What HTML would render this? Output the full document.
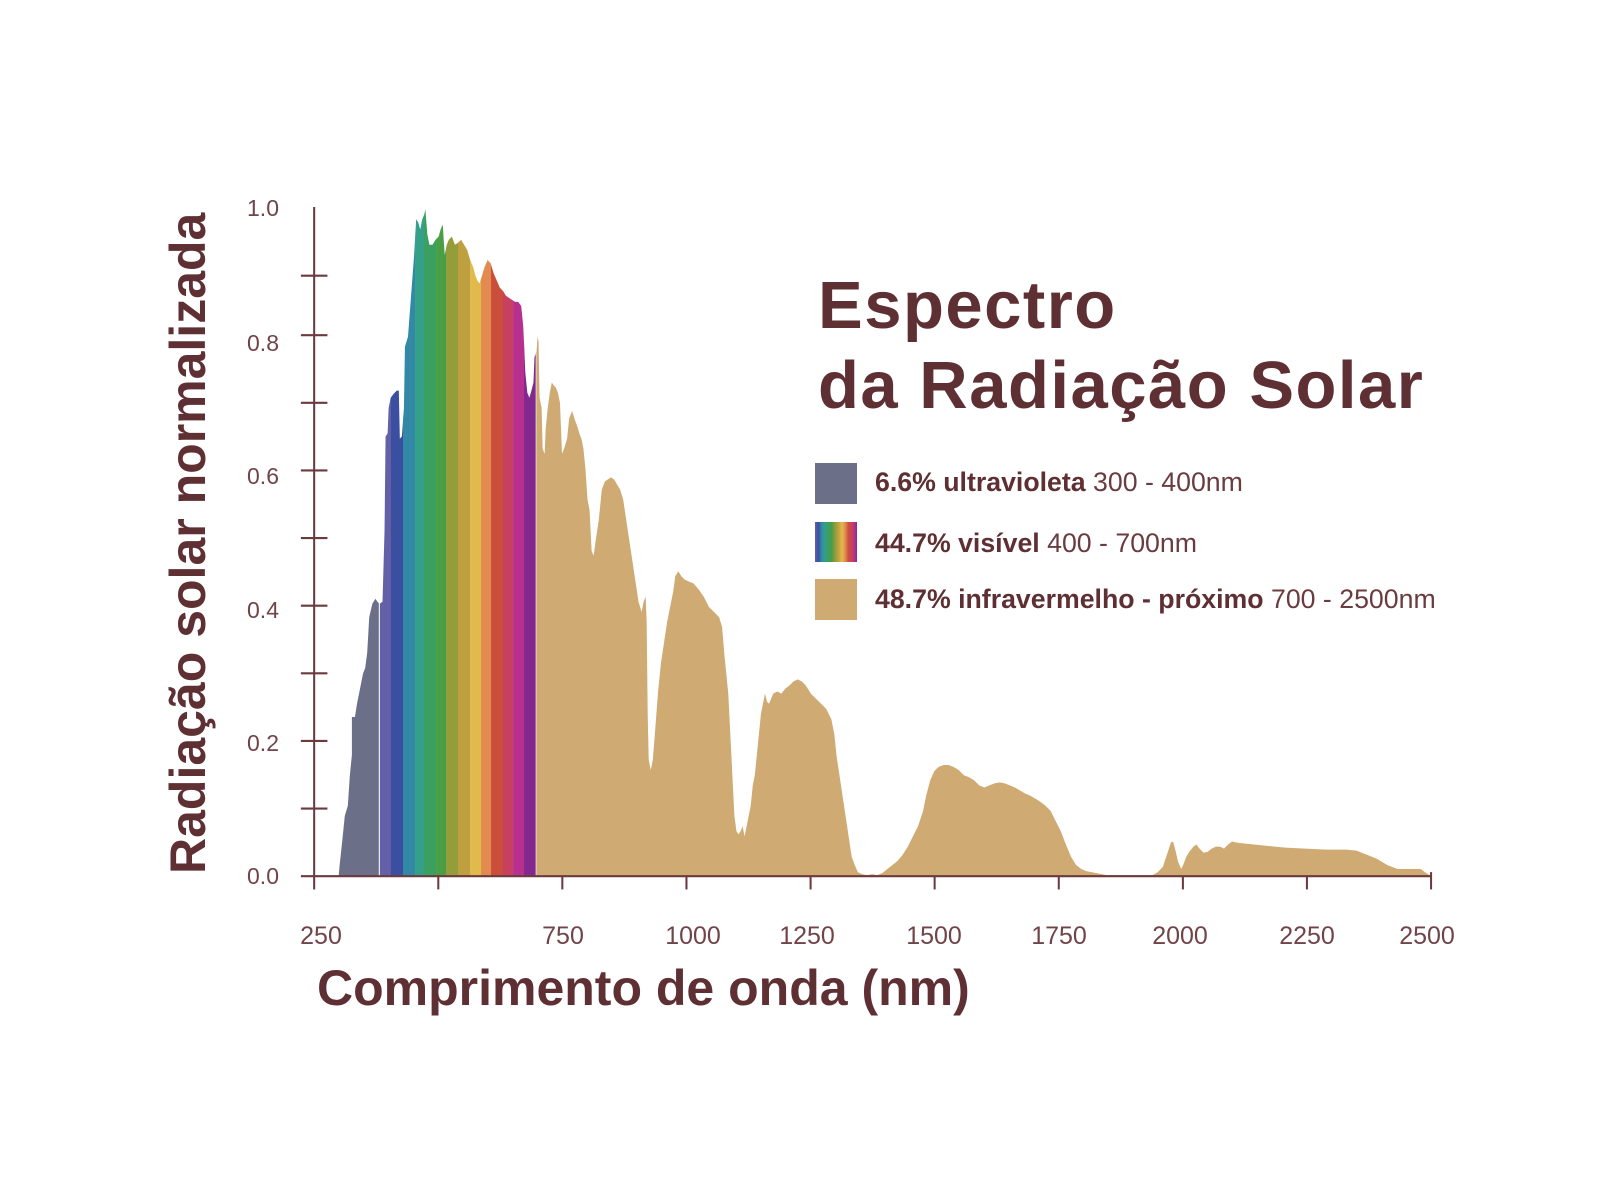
<!DOCTYPE html>
<html><head><meta charset="utf-8"><style>
html,body{margin:0;padding:0;background:#fff;}
svg{display:block;}
text{font-family:"Liberation Sans",sans-serif;}
</style></head><body>
<svg width="1600" height="1200" viewBox="0 0 1600 1200" xmlns="http://www.w3.org/2000/svg">
<defs>
<clipPath id="prof"><polygon points="332,859 333,848 336,820 338,800 341,790 343,760 345,740 345,703 348,703 350,690 352,680 354,670 356,660 358,655 360,640 362,605 365,592 368,587 370,590 372,592 375,590 377,520 378,428 380,425 381,400 383,390 386,386 389,383 391,383 392,430 394,428 396,400 397,340 400,330 403,290 406,250 408,215 410,218 412,225 414,215 416,210 417,205 419,230 421,240 424,240 427,235 430,232 432,225 434,220 436,250 438,240 440,235 443,232 446,240 449,238 452,235 455,240 458,245 461,255 464,262 466,270 468,275 470,278 472,272 475,262 478,255 481,258 484,268 487,275 490,282 493,285 496,290 499,292 502,294 505,296 508,296 511,300 513,320 515,365 517,385 519,390 521,383 523,375 524,350 526,345 527,330 528,335 529,390 531,400 532,440 534,445 535,420 537,400 539,385 541,375 543,378 545,380 547,385 549,395 551,445 553,440 556,430 558,410 561,403 563,410 566,418 568,425 570,430 572,440 574,460 576,490 578,500 580,540 582,545 584,530 587,510 590,480 593,472 596,470 599,468 602,470 605,475 608,480 611,490 614,510 617,530 620,550 623,570 626,590 629,600 631,590 633,585 634,610 635,700 636,745 638,755 640,745 642,720 645,680 648,650 651,630 654,610 657,595 660,580 662,565 665,560 668,565 671,568 675,570 680,572 685,578 690,585 695,595 700,600 705,605 708,615 710,640 712,660 714,680 716,720 718,760 720,800 722,815 724,818 726,815 728,810 730,820 732,810 734,800 736,790 738,770 740,760 742,740 744,720 746,700 748,690 750,680 752,688 754,690 756,685 758,680 762,678 766,680 770,675 774,672 778,668 782,666 786,668 790,672 795,680 800,685 805,690 810,695 815,705 818,720 820,740 823,760 826,780 829,800 832,820 835,840 838,848 841,855 845,857 850,858 855,857 860,858 865,856 870,852 875,848 880,844 885,838 890,830 895,820 900,810 905,795 908,780 912,765 916,756 920,752 925,750 930,750 935,752 940,755 945,760 950,762 955,765 960,770 965,772 970,770 975,768 980,767 985,768 990,770 995,772 1000,775 1005,778 1010,780 1015,783 1020,786 1025,790 1030,795 1035,805 1040,815 1045,828 1050,840 1055,848 1060,852 1065,854 1070,855 1080,857 1085,858 1130,858 1135,855 1140,850 1145,835 1148,826 1150,825 1152,832 1155,845 1158,852 1160,848 1163,840 1166,835 1170,830 1173,828 1176,832 1180,836 1184,835 1188,832 1192,830 1196,830 1200,832 1204,828 1208,825 1212,826 1220,827 1240,829 1260,831 1280,832 1300,833 1320,833 1330,834 1335,836 1340,838 1345,840 1350,842 1355,845 1360,848 1365,850 1370,852 1380,852 1393,852 1397,855 1403,859"/></clipPath>
<linearGradient id="vis" x1="0" x2="1" y1="0" y2="0">
<stop offset="0" stop-color="#6460a8"/><stop offset="0.08" stop-color="#3a4fa0"/><stop offset="0.16" stop-color="#3289a6"/><stop offset="0.24" stop-color="#35a08a"/><stop offset="0.32" stop-color="#3aa060"/><stop offset="0.40" stop-color="#4a9e45"/><stop offset="0.48" stop-color="#959c3a"/><stop offset="0.56" stop-color="#bfa040"/><stop offset="0.64" stop-color="#e0bb4c"/><stop offset="0.72" stop-color="#e38a50"/><stop offset="0.80" stop-color="#cb4e3a"/><stop offset="0.88" stop-color="#c74060"/><stop offset="0.94" stop-color="#b73090"/><stop offset="1" stop-color="#83298e"/>
</linearGradient>
</defs>
<g transform="scale(1.02)">
<g clip-path="url(#prof)">
<rect x="300" y="180" width="72" height="700" fill="#6b7088"/>
<rect x="372.5" y="180" width="11" height="700" fill="#6460a8"/>
<rect x="383.3" y="180" width="12" height="700" fill="#3a4fa0"/>
<rect x="395.1" y="180" width="12" height="700" fill="#3289a6"/>
<rect x="406.9" y="180" width="9" height="700" fill="#35a08a"/>
<rect x="415.7" y="180" width="12" height="700" fill="#3aa060"/>
<rect x="427.5" y="180" width="10" height="700" fill="#4a9e45"/>
<rect x="437.3" y="180" width="12" height="700" fill="#959c3a"/>
<rect x="449" y="180" width="12" height="700" fill="#bfa040"/>
<rect x="460.8" y="180" width="11" height="700" fill="#e0bb4c"/>
<rect x="471.6" y="180" width="10" height="700" fill="#e38a50"/>
<rect x="481.4" y="180" width="12" height="700" fill="#cb4e3a"/>
<rect x="493.1" y="180" width="10" height="700" fill="#c74060"/>
<rect x="503" y="180" width="11" height="700" fill="#b73090"/>
<rect x="513.7" y="180" width="12" height="700" fill="#83298e"/>
<rect x="525.5" y="180" width="900" height="700" fill="#cfaa72"/>
<rect x="371.3" y="180" width="1.2" height="700" fill="#fff" opacity="0.7"/>
<rect x="525" y="180" width="1" height="700" fill="#fff" opacity="0.6"/>
</g>
<g stroke="#6b3a3e" stroke-width="2" fill="none">
<line x1="308" y1="203" x2="308" y2="872"/>
<line x1="295" y1="859" x2="1403" y2="859"/>
<line x1="295" y1="792.7" x2="321" y2="792.7"/>
<line x1="295" y1="726.4" x2="321" y2="726.4"/>
<line x1="295" y1="660.1" x2="321" y2="660.1"/>
<line x1="295" y1="593.8" x2="321" y2="593.8"/>
<line x1="295" y1="527.5" x2="321" y2="527.5"/>
<line x1="295" y1="461.2" x2="321" y2="461.2"/>
<line x1="295" y1="394.9" x2="321" y2="394.9"/>
<line x1="295" y1="328.6" x2="321" y2="328.6"/>
<line x1="295" y1="270.3" x2="321" y2="270.3"/>
<line x1="429.7" y1="859" x2="429.7" y2="872"/>
<line x1="551.3" y1="859" x2="551.3" y2="872"/>
<line x1="673" y1="859" x2="673" y2="872"/>
<line x1="794.7" y1="859" x2="794.7" y2="872"/>
<line x1="916.3" y1="859" x2="916.3" y2="872"/>
<line x1="1038" y1="859" x2="1038" y2="872"/>
<line x1="1159.7" y1="859" x2="1159.7" y2="872"/>
<line x1="1281.3" y1="859" x2="1281.3" y2="872"/>
<line x1="1403" y1="855" x2="1403" y2="872"/>
</g>
</g>
<g fill="#704448" font-size="23" text-anchor="end">
<text x="279" y="884">0.0</text>
<text x="279" y="751">0.2</text>
<text x="279" y="618">0.4</text>
<text x="279" y="484">0.6</text>
<text x="279" y="351">0.8</text>
<text x="279" y="216">1.0</text>
</g>
<g fill="#704448" font-size="25" text-anchor="middle">
<text x="321" y="944">250</text>
<text x="563" y="944">750</text>
<text x="693" y="944">1000</text>
<text x="807" y="944">1250</text>
<text x="934" y="944">1500</text>
<text x="1059" y="944">1750</text>
<text x="1180" y="944">2000</text>
<text x="1307" y="944">2250</text>
<text x="1427" y="944">2500</text>
</g>
<text x="317" y="1005" fill="#5e2f33" font-size="50" font-weight="bold">Comprimento de onda (nm)</text>
<text transform="translate(205,874) rotate(-90)" fill="#5e2f33" font-size="50" font-weight="bold">Radiação solar normalizada</text>
<g fill="#5e2f33" font-weight="bold" font-size="67" letter-spacing="1.5">
<text x="818" y="328">Espectro</text>
<text x="818" y="408">da Radiação Solar</text>
</g>
<rect x="815" y="463" width="42" height="41" fill="#6b7088"/>
<rect x="815" y="522" width="42" height="40" fill="url(#vis)"/>
<rect x="815" y="579" width="42" height="41" fill="#cfaa72"/>
<g font-size="26.7" fill="#5e2f33">
<text x="875" y="491"><tspan font-weight="bold">6.6% ultravioleta</tspan><tspan fill="#6b3c3f"> 300 - 400nm</tspan></text>
<text x="875" y="552"><tspan font-weight="bold">44.7% visível</tspan><tspan fill="#6b3c3f"> 400 - 700nm</tspan></text>
<text x="875" y="608"><tspan font-weight="bold">48.7% infravermelho - próximo</tspan><tspan fill="#6b3c3f"> 700 - 2500nm</tspan></text>
</g>
</svg>
</body></html>
